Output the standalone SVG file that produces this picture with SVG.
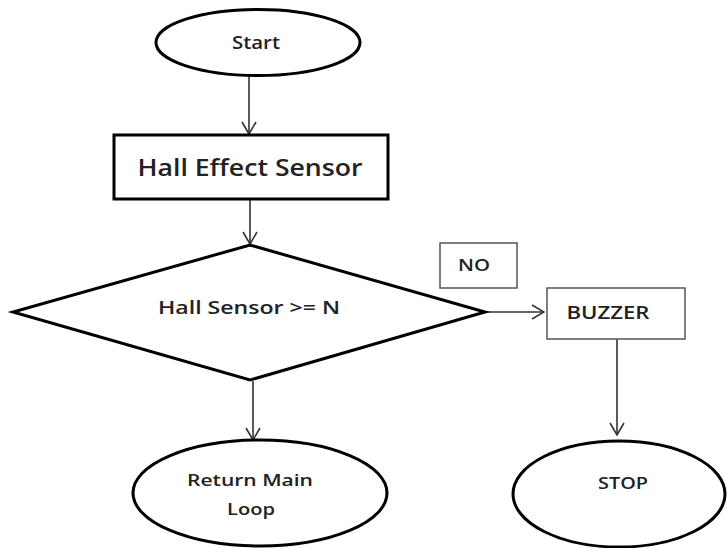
<svg xmlns="http://www.w3.org/2000/svg" width="727" height="548" viewBox="0 0 727 548">
<defs>
<marker id="arr" markerUnits="userSpaceOnUse" markerWidth="14" markerHeight="16" refX="13" refY="8" orient="auto" viewBox="0 0 14 16">
<path d="M1,1 L13,8 L1,15" fill="none" stroke="#333" stroke-width="1.6"/>
</marker>
</defs>
<style>
.thick{fill:#fff;stroke:#000;stroke-width:3}
.thin{fill:#fff;stroke:#555;stroke-width:1.5}
.t{font-family:"Open Sans","Liberation Sans",sans-serif;font-weight:600;fill:#222;text-anchor:middle}
.c{fill:none;stroke:#333;stroke-width:1.6}
</style>
<rect width="727" height="548" fill="#fff"/>
<g id="connectors">
<line class="c" x1="249" y1="76" x2="249" y2="134" marker-end="url(#arr)"/>
<line class="c" x1="250" y1="200" x2="250" y2="244" marker-end="url(#arr)"/>
<line class="c" x1="485" y1="312" x2="544" y2="312" marker-end="url(#arr)"/>
<line class="c" x1="253" y1="381" x2="253" y2="440" marker-end="url(#arr)"/>
<line class="c" x1="617" y1="339" x2="617" y2="435" marker-end="url(#arr)"/>
</g>
<g id="start">
<ellipse class="thick" cx="258" cy="42.5" rx="102" ry="33"/>
<text class="t" x="256" y="49" font-size="18" textLength="48" lengthAdjust="spacingAndGlyphs">Start</text>
</g>
<g id="sensor">
<rect class="thick" x="114" y="135" width="274" height="64"/>
<text class="t" x="250" y="176" font-size="23" textLength="225" lengthAdjust="spacingAndGlyphs">Hall Effect Sensor</text>
</g>
<g id="decision">
<polygon class="thick" points="250,245 485,312 250,380 13,312"/>
<text class="t" x="249" y="314" font-size="18" textLength="182" lengthAdjust="spacingAndGlyphs">Hall Sensor &gt;= N</text>
</g>
<g id="no">
<rect class="thin" x="440" y="243" width="77" height="45"/>
<text class="t" x="474" y="271" font-size="16" textLength="32" lengthAdjust="spacingAndGlyphs">NO</text>
</g>
<g id="buzzer">
<rect class="thin" x="547" y="288" width="138" height="51"/>
<text class="t" x="608" y="319" font-size="18" textLength="83" lengthAdjust="spacingAndGlyphs">BUZZER</text>
</g>
<g id="return">
<ellipse class="thick" cx="260" cy="493" rx="127" ry="53"/>
<text class="t" x="250" y="486" font-size="16" textLength="126" lengthAdjust="spacingAndGlyphs">Return Main</text>
<text class="t" x="251" y="515" font-size="16" textLength="48" lengthAdjust="spacingAndGlyphs">Loop</text>
</g>
<g id="stop">
<ellipse class="thick" cx="619" cy="494" rx="106" ry="53"/>
<text class="t" x="623" y="489" font-size="16" textLength="50" lengthAdjust="spacingAndGlyphs">STOP</text>
</g>
</svg>
